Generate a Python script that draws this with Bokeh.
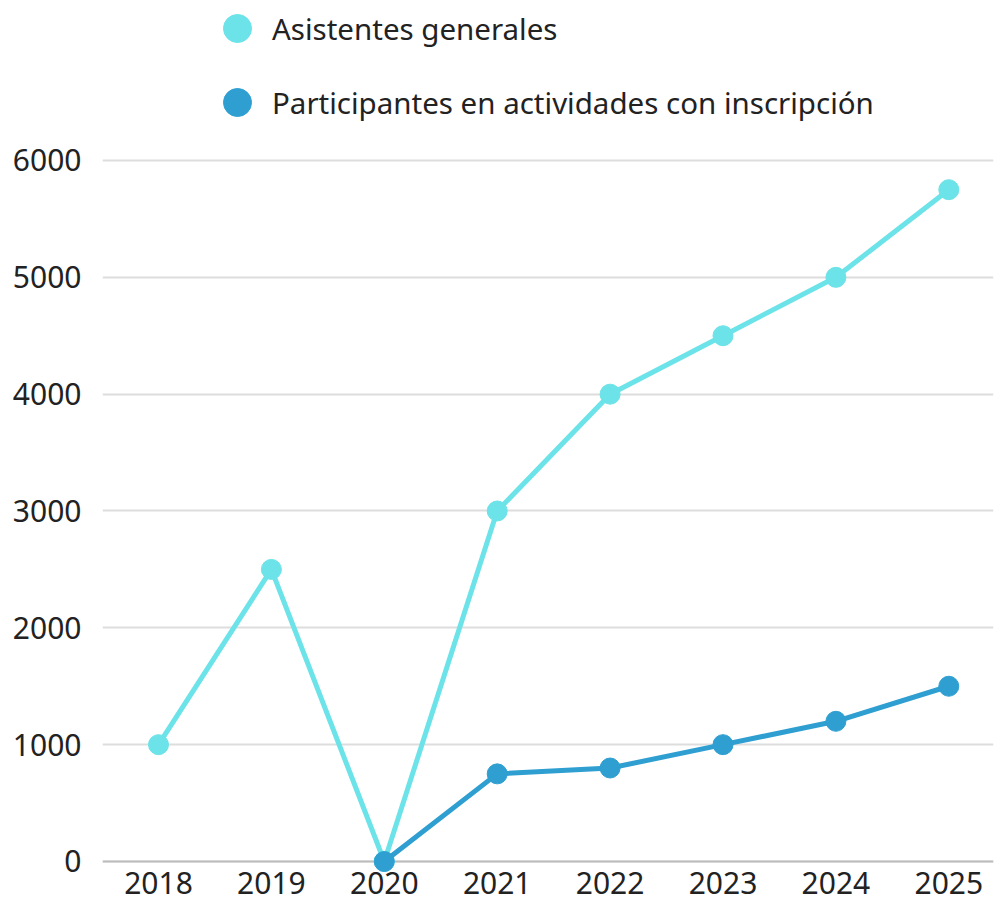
from bokeh.plotting import figure
from bokeh.models import ColumnDataSource, Range1d, FixedTicker, Legend, LegendItem, Span
from bokeh.embed import file_html
from bokeh.resources import INLINE

years_a = [2018, 2019, 2020, 2021, 2022, 2023, 2024, 2025]
asistentes = [1000, 2500, 0, 3000, 4000, 4500, 5000, 5750]
years_p = [2020, 2021, 2022, 2023, 2024, 2025]
participantes = [0, 750, 800, 1000, 1200, 1500]
y_ticks = [0, 1000, 2000, 3000, 4000, 5000, 6000]
x_ticks = [2018, 2019, 2020, 2021, 2022, 2023, 2024, 2025]

C_A = "#6be3e8"
C_P = "#2f9fd1"
FONT = "Noto Sans"

p = figure(width=995, height=903, output_backend="svg", toolbar_location=None,
           x_range=Range1d(2017.504, 2025.396), y_range=Range1d(-94.2, 7369.4),
           min_border_left=102, min_border_right=2, min_border_top=0, min_border_bottom=31)
p.outline_line_color = None
p.background_fill_color = "white"

src_a = ColumnDataSource(dict(x=years_a, y=asistentes))
src_p = ColumnDataSource(dict(x=years_p, y=participantes))

la = p.line("x", "y", source=src_a, line_color=C_A, line_width=5)
sa = p.scatter("x", "y", source=src_a, size=20, fill_color=C_A, line_color=C_A)
lp = p.line("x", "y", source=src_p, line_color=C_P, line_width=5)
sp = p.scatter("x", "y", source=src_p, size=20, fill_color=C_P, line_color=C_P)

zero = Span(location=0, dimension="width", line_color="#bdbdbd", line_width=2, level="underlay")
p.add_layout(zero)

p.xaxis.ticker = FixedTicker(ticks=x_ticks)
p.yaxis.ticker = FixedTicker(ticks=y_ticks)
for ax in (p.xaxis[0], p.yaxis[0]):
    ax.axis_line_color = None
    ax.major_tick_line_color = None
    ax.minor_tick_line_color = None
    ax.major_label_text_font = FONT
    ax.major_label_text_font_size = "30px"
    ax.major_label_text_color = "#222222"
p.yaxis.major_label_standoff = 15
p.xaxis.major_label_standoff = -7
p.xgrid.grid_line_color = None
p.ygrid.grid_line_color = "#dddddd"
p.ygrid.grid_line_width = 2

legend = Legend(items=[LegendItem(label="Asistentes generales", renderers=[sa]),
                       LegendItem(label="Participantes en actividades con inscripción", renderers=[sp])],
                location=(100, 733), orientation="vertical",
                glyph_width=70, glyph_height=74, spacing=0, padding=0, margin=0,
                label_standoff=0, label_text_font=FONT, label_text_font_size="29.5px",
                label_text_color="#222222", border_line_color=None, background_fill_alpha=0)
p.add_layout(legend, "center")

open("out.html", "w").write(file_html(p, INLINE))
